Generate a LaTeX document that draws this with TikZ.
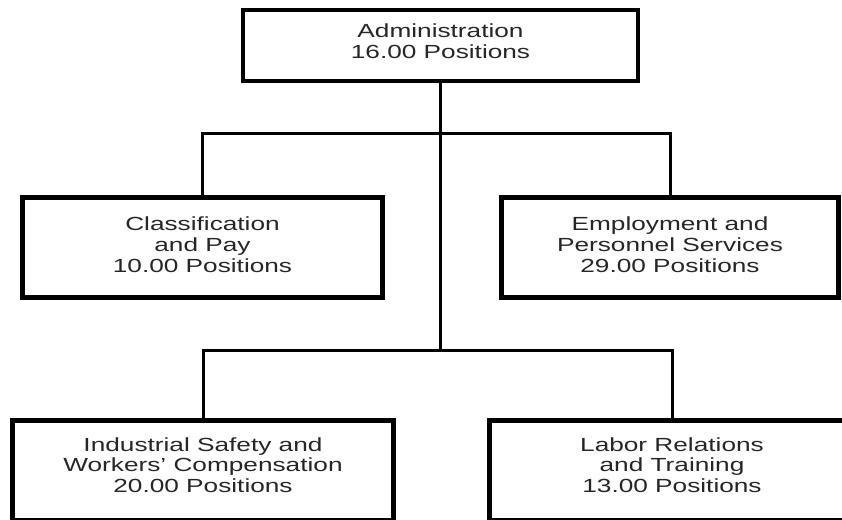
\documentclass[tikz,border=0pt]{standalone}
\usepackage{fontspec}
\setmainfont{Liberation Sans}[FakeStretch=1.38]
\begin{document}
\begin{tikzpicture}[x=1pt,y=-1pt,
    unit/.style={draw,line width=4.5pt,align=center,text=black!85,
        font=\fontsize{19}{20.8}\selectfont},
    link/.style={line width=3pt}]
    \useasboundingbox (0,0) rectangle (842,519);
    \clip (0,0) rectangle (842,519);
    \node[unit,minimum width=395,minimum height=71,text depth=8pt](adm)at(440.5,45.5) {Administration\\16.00 Positions};
    \node[unit,minimum width=360,minimum height=100,text depth=6pt](cls)at(202.5,247.5) {Classification\\and Pay\\10.00 Positions};
    \node[unit,minimum width=337,minimum height=100,text depth=6pt](emp)at(670,247.5) {Employment and\\Personnel Services\\29.00 Positions};
    \node[unit,minimum width=381,minimum height=100,text depth=11pt](ind)at(203,470.5) {Industrial Safety and\\Workers' Compensation\\20.00 Positions};
    \node[unit,minimum width=365,minimum height=100,text depth=11pt](lab)at(672,470.5) {Labor Relations\\and Training\\13.00 Positions};

    \coordinate (j1) at (440.5,133);
    \coordinate (j2) at (440.5,350);

    \draw[link](adm.south) -- (j2);
    \draw[link](cls.north) -- (cls.north |- j1) -- (emp.north |- j1) -- (emp.north);
    \draw[link](ind.north) -- (ind.north |- j2) -- (lab.north |- j2) -- (lab.north);
\end{tikzpicture}
\end{document}
